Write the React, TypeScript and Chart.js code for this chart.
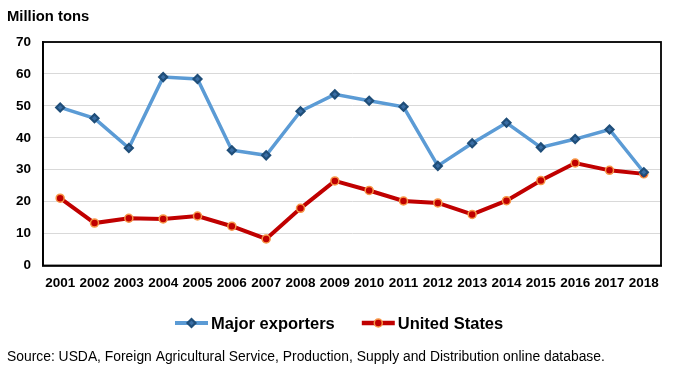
import React, { useEffect, useRef } from "react";
import { Chart, registerables } from "chart.js";

Chart.register(...registerables);

const years = ["2001","2002","2003","2004","2005","2006","2007","2008","2009","2010","2011","2012","2013","2014","2015","2016","2017","2018"];
const majorExporters = [49.5, 46.1, 36.8, 59.0, 58.4, 36.1, 34.5, 48.3, 53.6, 51.6, 49.7, 31.2, 38.3, 44.7, 37.0, 39.6, 42.6, 29.2];
const unitedStates = [21.1, 13.3, 14.8, 14.6, 15.5, 12.3, 8.3, 17.9, 26.5, 23.5, 20.2, 19.6, 16.0, 20.3, 26.6, 32.1, 29.8, 28.7];
const yTicks = [0, 10, 20, 30, 40, 50, 60, 70];
const yTitle = "Million tons";
const sourceNote = "Source: USDA, Foreign Agricultural Service, Production, Supply and Distribution online database.";

const FAMILY = "'Liberation Sans', Arial, sans-serif";

const decorPlugin = {
  id: "decor",
  beforeDatasetsDraw(chart: any) {
    const { ctx, chartArea } = chart;
    ctx.save();
    ctx.strokeStyle = "#000";
    ctx.lineWidth = 1.8;
    ctx.strokeRect(chartArea.left, chartArea.top, chartArea.right - chartArea.left, chartArea.bottom - chartArea.top);
    ctx.restore();
  },
  afterDraw(chart: any) {
    const { ctx } = chart;
    ctx.save();
    ctx.fillStyle = "#000";
    ctx.font = "bold 14.8px " + FAMILY;
    ctx.textBaseline = "alphabetic";
    ctx.textAlign = "left";
    ctx.fillText(yTitle, 7, 21);

    // legend
    const ds = chart.data.datasets;
    const legendFont = "bold 16.5px " + FAMILY;
    const symW = 33;
    const gap = 3;
    const between = 27;
    let x = 175;
    const y = 323;
    ds.forEach((d: any) => {
      ctx.strokeStyle = d.borderColor;
      ctx.lineWidth = d.borderWidth + 0.5;
      ctx.beginPath();
      ctx.moveTo(x, y);
      ctx.lineTo(x + symW, y);
      ctx.stroke();
      const cx = x + symW / 2;
      ctx.fillStyle = d.pointBackgroundColor;
      ctx.strokeStyle = d.pointBorderColor;
      ctx.lineWidth = d.pointBorderWidth;
      ctx.beginPath();
      if (d.pointStyle === "rectRot") {
        const r = d.pointRadius;
        ctx.moveTo(cx, y - r);
        ctx.lineTo(cx + r, y);
        ctx.lineTo(cx, y + r);
        ctx.lineTo(cx - r, y);
        ctx.closePath();
      } else {
        ctx.arc(cx, y, d.pointRadius, 0, Math.PI * 2);
      }
      ctx.fill();
      ctx.stroke();
      ctx.fillStyle = "#000";
      ctx.font = legendFont;
      ctx.textBaseline = "alphabetic";
      ctx.fillText(d.label, x + symW + gap, y + 6);
      const w = ctx.measureText(d.label).width;
      x += symW + gap + w + between;
    });

    ctx.font = "14px " + FAMILY;
    ctx.textBaseline = "alphabetic";
    ctx.fillStyle = "#000";
    ctx.save();
    ctx.translate(7, 361);
    ctx.scale(0.99, 1);
    ctx.fillText(sourceNote, 0, 0);
    ctx.restore();
    ctx.restore();
  },
};

export default function App() {
  const ref = useRef<HTMLCanvasElement | null>(null);
  useEffect(() => {
    if (!ref.current) return;
    const chart = new Chart(ref.current, {
      type: "line",
      data: {
        labels: years,
        datasets: [
          {
            label: "Major exporters",
            data: majorExporters,
            borderColor: "#5B9BD5",
            borderWidth: 3.5,
            pointStyle: "rectRot",
            pointRadius: 4,
            pointBackgroundColor: "#3A6EA5",
            pointBorderColor: "#1F4E79",
            pointBorderWidth: 2.2,
            tension: 0,
          } as any,
          {
            label: "United States",
            data: unitedStates,
            borderColor: "#C00000",
            borderWidth: 4,
            pointStyle: "circle",
            pointRadius: 4,
            pointBackgroundColor: "#C00000",
            pointBorderColor: "#F79646",
            pointBorderWidth: 1.5,
            tension: 0,
          } as any,
        ],
      },
      options: {
        responsive: false,
        animation: false,
        layout: { padding: { left: 0, right: 12, top: 42, bottom: 79.5 } },
        plugins: { legend: { display: false }, tooltip: { enabled: false } },
        scales: {
          x: {
            offset: true,
            grid: { display: false, drawTicks: false },
            border: { display: true, color: "#000", width: 1.8 },
            ticks: { color: "#000", font: { family: FAMILY, size: 13.5, weight: "bold" }, padding: 10, maxRotation: 0, autoSkip: false },
            afterFit(scale: any) { scale.height = 30; },
          },
          y: {
            min: 0,
            max: 70,
            afterBuildTicks(scale: any) { scale.ticks = yTicks.map((v) => ({ value: v })); },
            grid: { color: "#D9D9D9", lineWidth: 1, drawTicks: false },
            border: { display: true, color: "#000", width: 1.8 },
            ticks: { color: "#000", font: { family: FAMILY, size: 13.5, weight: "bold" }, padding: 12 },
            afterFit(scale: any) { scale.width = 43; },
          },
        },
      },
      plugins: [decorPlugin],
    });
    return () => chart.destroy();
  }, []);
  return (
    <div style={{ position: "absolute", left: 0, top: 0, width: 673, height: 375, background: "#fff" }}>
      <canvas ref={ref} width={673} height={375} style={{ display: "block" }} />
    </div>
  );
}
